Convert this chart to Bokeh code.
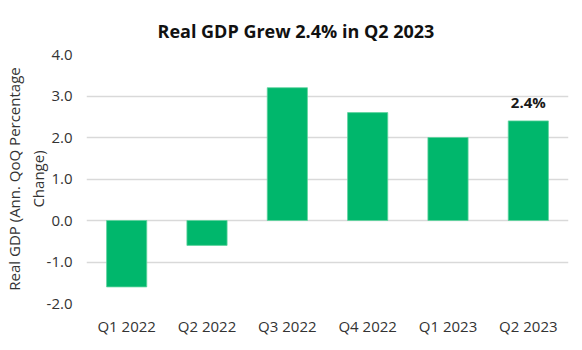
from bokeh.plotting import figure
from bokeh.models import FactorRange, Range1d, ColumnDataSource, FixedTicker, CustomJSTickFormatter
from bokeh.core.properties import value
from bokeh.embed import file_html
from bokeh.resources import INLINE

quarters = ["Q1 2022", "Q2 2022", "Q3 2022", "Q4 2022", "Q1 2023", "Q2 2023"]
gdp_growth = [-1.6, -0.6, 3.2, 2.6, 2.0, 2.4]
y_ticks = [-2, -1, 0, 1, 2, 3, 4]
annot_quarter = ["Q2 2023"]
annot_value = [2.4]
annot_text = ["2.4%"]

FONT = "Open Sans"
GREEN = "#00b76c"

p = figure(width=582, height=350, x_range=FactorRange(*quarters, range_padding=0),
           y_range=Range1d(-2, 4), output_backend="svg", toolbar_location=None,
           title="Real GDP Grew 2.4% in Q2 2023",
           min_border_left=85, min_border_right=14, min_border_bottom=47, min_border_top=54)

src = ColumnDataSource(dict(q=quarters, v=gdp_growth))
p.vbar(x="q", top="v", bottom=0, width=0.5, source=src, fill_color=GREEN,
       line_color="#5fd39e", line_width=0.8)

asrc = ColumnDataSource(dict(q=annot_quarter, v=annot_value, t=annot_text))
p.text(x="q", y="v", text="t", source=asrc, text_font=value(FONT), text_font_style="bold",
       text_font_size="15px", text_align="center", text_baseline="alphabetic", y_offset=-19,
       text_color="#1a1a1a")

p.title.text_font = FONT
p.title.text_font_size = "18px"
p.title.text_font_style = "bold"
p.title.align = "left"
p.title.text_color = "#111111"
p.title.offset = 71
p.title.standoff = 23

p.yaxis.ticker = FixedTicker(ticks=y_ticks)
p.yaxis.formatter = CustomJSTickFormatter(code="return tick.toFixed(1);")
p.yaxis.axis_label = "Real GDP (Ann. QoQ Percentage\nChange)"
for ax in (p.xaxis[0], p.yaxis[0]):
    ax.axis_line_color = None
    ax.major_tick_line_color = None
    ax.minor_tick_line_color = None
    ax.major_label_text_font = FONT
    ax.major_label_text_font_size = "15px"
    ax.major_label_text_color = "#333333"
p.yaxis.major_label_standoff = 8
p.xaxis.major_label_standoff = 6
p.yaxis.axis_label_text_font = FONT
p.yaxis.axis_label_text_font_size = "15px"
p.yaxis.axis_label_text_font_style = "normal"
p.yaxis.axis_label_text_color = "#333333"
p.yaxis.axis_label_standoff = -4

p.xgrid.grid_line_color = None
p.ygrid.grid_line_color = "#d9d9d9"
p.ygrid.grid_line_width = 1.5
p.outline_line_color = None
p.background_fill_color = "white"
p.border_fill_color = "white"

open("out.html", "w").write(file_html(p, INLINE))
